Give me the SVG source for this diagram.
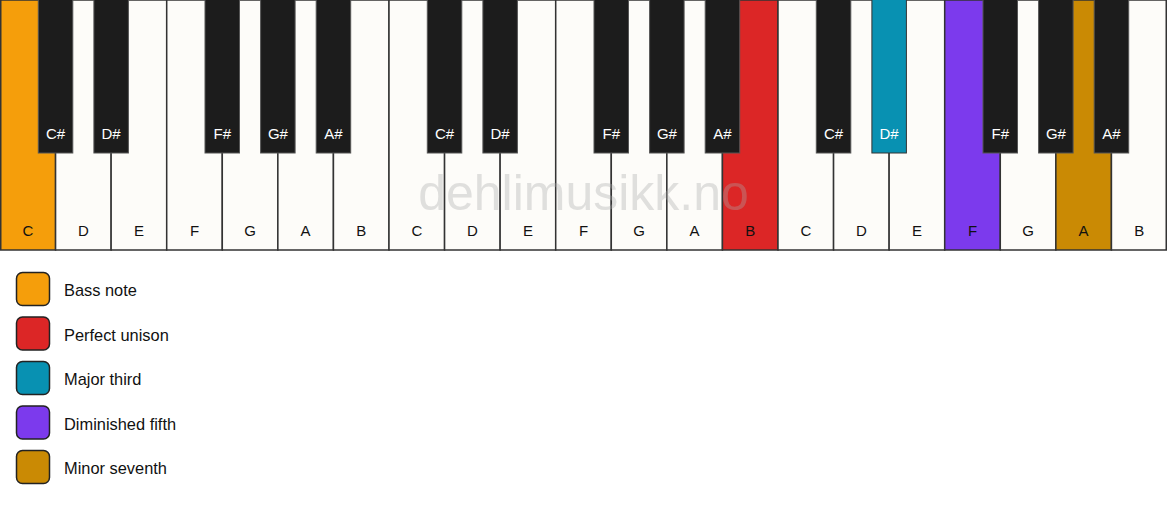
<svg xmlns="http://www.w3.org/2000/svg" width="1167" height="506" viewBox="0 0 1167 506">
<style>
.w{fill:#fdfcf9;stroke:#333;stroke-width:1.5}
.b{fill:#1c1c1c;stroke:#555;stroke-width:1}
.wl{font-family:"Liberation Sans",Arial,sans-serif;font-size:15px;fill:#111;text-anchor:middle}
.bl{font-family:"Liberation Sans",Arial,sans-serif;font-size:15px;fill:#fff;text-anchor:middle}
.lg{stroke:#222;stroke-width:1.5}
.lt{font-family:"Liberation Sans",Arial,sans-serif;font-size:16.4px;fill:#111}
.wm{font-family:"Liberation Sans",Arial,sans-serif;font-size:50px;fill:#aaa;opacity:0.35;text-anchor:middle}
</style>
<rect width="1167" height="506" fill="#ffffff"/>
<g id="white-keys">
<g id="w0"><rect class="w" x="0.75" y="0" width="54.82" height="250" style="fill:#f59e0b"/><text class="wl" x="27.8" y="236">C</text></g>
<g id="w1"><rect class="w" x="55.57" y="0" width="55.57" height="250"/><text class="wl" x="83.4" y="236">D</text></g>
<g id="w2"><rect class="w" x="111.14" y="0" width="55.57" height="250"/><text class="wl" x="138.9" y="236">E</text></g>
<g id="w3"><rect class="w" x="166.71" y="0" width="55.57" height="250"/><text class="wl" x="194.5" y="236">F</text></g>
<g id="w4"><rect class="w" x="222.29" y="0" width="55.57" height="250"/><text class="wl" x="250.1" y="236">G</text></g>
<g id="w5"><rect class="w" x="277.86" y="0" width="55.57" height="250"/><text class="wl" x="305.6" y="236">A</text></g>
<g id="w6"><rect class="w" x="333.43" y="0" width="55.57" height="250"/><text class="wl" x="361.2" y="236">B</text></g>
<g id="w7"><rect class="w" x="389" y="0" width="55.57" height="250"/><text class="wl" x="416.8" y="236">C</text></g>
<g id="w8"><rect class="w" x="444.57" y="0" width="55.57" height="250"/><text class="wl" x="472.4" y="236">D</text></g>
<g id="w9"><rect class="w" x="500.14" y="0" width="55.57" height="250"/><text class="wl" x="527.9" y="236">E</text></g>
<g id="w10"><rect class="w" x="555.71" y="0" width="55.57" height="250"/><text class="wl" x="583.5" y="236">F</text></g>
<g id="w11"><rect class="w" x="611.29" y="0" width="55.57" height="250"/><text class="wl" x="639.1" y="236">G</text></g>
<g id="w12"><rect class="w" x="666.86" y="0" width="55.57" height="250"/><text class="wl" x="694.6" y="236">A</text></g>
<g id="w13"><rect class="w" x="722.43" y="0" width="55.57" height="250" style="fill:#dc2626"/><text class="wl" x="750.2" y="236">B</text></g>
<g id="w14"><rect class="w" x="778" y="0" width="55.57" height="250"/><text class="wl" x="805.8" y="236">C</text></g>
<g id="w15"><rect class="w" x="833.57" y="0" width="55.57" height="250"/><text class="wl" x="861.4" y="236">D</text></g>
<g id="w16"><rect class="w" x="889.14" y="0" width="55.57" height="250"/><text class="wl" x="916.9" y="236">E</text></g>
<g id="w17"><rect class="w" x="944.71" y="0" width="55.57" height="250" style="fill:#7c3aed"/><text class="wl" x="972.5" y="236">F</text></g>
<g id="w18"><rect class="w" x="1000.29" y="0" width="55.57" height="250"/><text class="wl" x="1028.1" y="236">G</text></g>
<g id="w19"><rect class="w" x="1055.86" y="0" width="55.57" height="250" style="fill:#ca8a04"/><text class="wl" x="1083.6" y="236">A</text></g>
<g id="w20"><rect class="w" x="1111.43" y="0" width="54.82" height="250"/><text class="wl" x="1139.2" y="236">B</text></g>
</g>
<g id="black-keys">
<g id="b0"><rect class="b" x="38.3" y="-1" width="34.5" height="154"/><text class="bl" x="55.6" y="139">C#</text></g>
<g id="b1"><rect class="b" x="93.9" y="-1" width="34.5" height="154"/><text class="bl" x="111.1" y="139">D#</text></g>
<g id="b2"><rect class="b" x="205.0" y="-1" width="34.5" height="154"/><text class="bl" x="222.3" y="139">F#</text></g>
<g id="b3"><rect class="b" x="260.6" y="-1" width="34.5" height="154"/><text class="bl" x="277.9" y="139">G#</text></g>
<g id="b4"><rect class="b" x="316.2" y="-1" width="34.5" height="154"/><text class="bl" x="333.4" y="139">A#</text></g>
<g id="b5"><rect class="b" x="427.3" y="-1" width="34.5" height="154"/><text class="bl" x="444.6" y="139">C#</text></g>
<g id="b6"><rect class="b" x="482.9" y="-1" width="34.5" height="154"/><text class="bl" x="500.1" y="139">D#</text></g>
<g id="b7"><rect class="b" x="594.0" y="-1" width="34.5" height="154"/><text class="bl" x="611.3" y="139">F#</text></g>
<g id="b8"><rect class="b" x="649.6" y="-1" width="34.5" height="154"/><text class="bl" x="666.9" y="139">G#</text></g>
<g id="b9"><rect class="b" x="705.2" y="-1" width="34.5" height="154"/><text class="bl" x="722.4" y="139">A#</text></g>
<g id="b10"><rect class="b" x="816.3" y="-1" width="34.5" height="154"/><text class="bl" x="833.6" y="139">C#</text></g>
<g id="b11"><rect class="b" x="871.9" y="-1" width="34.5" height="154" style="fill:#0891b2;stroke:#333"/><text class="bl" x="889.1" y="139">D#</text></g>
<g id="b12"><rect class="b" x="983.0" y="-1" width="34.5" height="154"/><text class="bl" x="1000.3" y="139">F#</text></g>
<g id="b13"><rect class="b" x="1038.6" y="-1" width="34.5" height="154"/><text class="bl" x="1055.9" y="139">G#</text></g>
<g id="b14"><rect class="b" x="1094.2" y="-1" width="34.5" height="154"/><text class="bl" x="1111.4" y="139">A#</text></g>
</g>
<text class="wm" x="583.5" y="210">dehlimusikk.no</text>
<g id="legend">
<g id="lg-bass"><rect class="lg" x="16.5" y="272.5" width="33" height="33" rx="6" fill="#f59e0b"/><text class="lt" x="64" y="296">Bass note</text></g>
<g id="lg-unison"><rect class="lg" x="16.5" y="317" width="33" height="33" rx="6" fill="#dc2626"/><text class="lt" x="64" y="340.5">Perfect unison</text></g>
<g id="lg-third"><rect class="lg" x="16.5" y="361.5" width="33" height="33" rx="6" fill="#0891b2"/><text class="lt" x="64" y="385">Major third</text></g>
<g id="lg-fifth"><rect class="lg" x="16.5" y="406" width="33" height="33" rx="6" fill="#7c3aed"/><text class="lt" x="64" y="429.5">Diminished fifth</text></g>
<g id="lg-seventh"><rect class="lg" x="16.5" y="450.5" width="33" height="33" rx="6" fill="#ca8a04"/><text class="lt" x="64" y="474">Minor seventh</text></g>
</g>
<g id="connectors"/>
</svg>
